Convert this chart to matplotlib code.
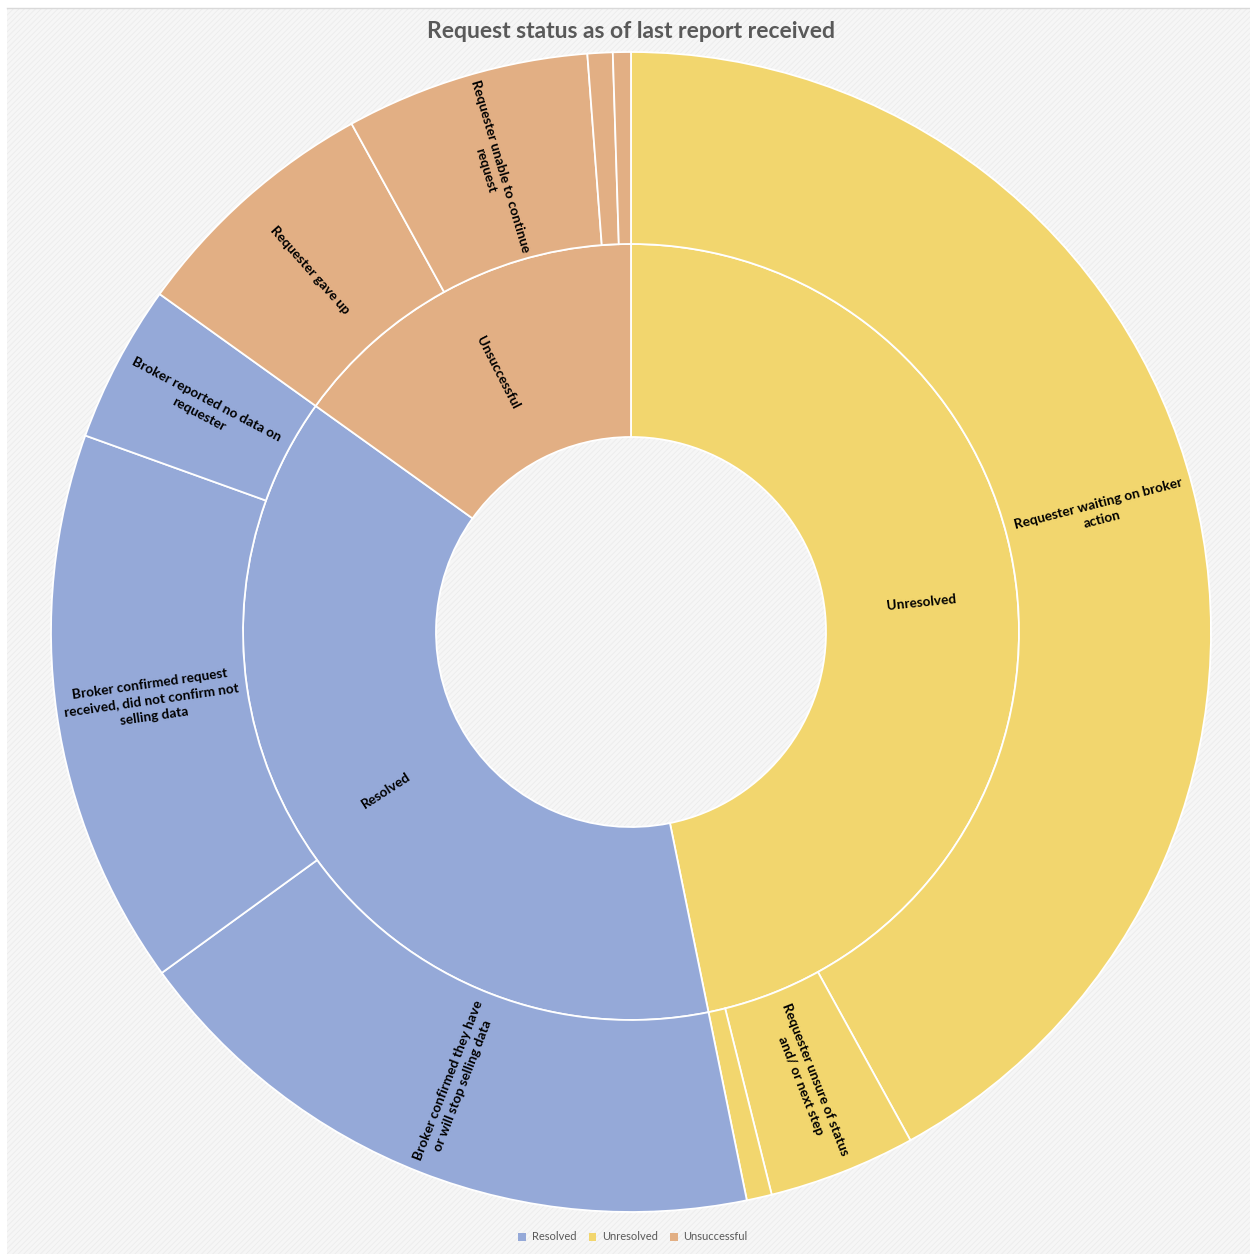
import numpy as np
import matplotlib.pyplot as plt
from matplotlib.patches import Rectangle, Patch

plt.rcParams['font.family'] = ['Lato', 'DejaVu Sans']
plt.rcParams['hatch.linewidth'] = 0.6

# inner ring
groups = ['Unresolved', 'Resolved', 'Unsuccessful']
group_colors = ['#F2D66E', '#95A9D8', '#E2AF84']

# outer ring (percent of requests)
sub_labels = [
    'Requester waiting on broker\naction',
    'Requester unsure of status\nand/ or next step',
    '',
    'Broker confirmed they have\nor will stop selling data',
    'Broker confirmed request\nreceived, did not confirm not\nselling data',
    'Broker reported no data on\nrequester',
    'Requester gave up',
    'Requester unable to continue\nrequest',
    '',
    '',
]
sub_values = [42.0, 4.1, 0.7, 18.2, 15.5, 4.4, 7.1, 6.8, 0.7, 0.5]
sub_group = [0, 0, 0, 1, 1, 1, 2, 2, 2, 2]

group_values = [sum(v for v, g in zip(sub_values, sub_group) if g == i)
                for i in range(len(groups))]

W, H = 1250, 1254
fig = plt.figure(figsize=(W / 100, H / 100), dpi=100)

# chart area background with the fine diagonal pattern
bg = Rectangle((7 / W, 0), 1 - 7 / W, 1 - 8 / H, transform=fig.transFigure,
               facecolor='#F6F6F6', edgecolor='#ECECEC', hatch='//////',
               lw=0, zorder=-10)
fig.patches.append(bg)
fig.add_artist(plt.Line2D([7 / W, 1], [1 - 8 / H, 1 - 8 / H], color='#D9D9D9',
                          lw=1, transform=fig.transFigure))

# place ring: centre at (631, 632) px from top, outer radius 580 px
cx, cy, R, half = 631, H - 632, 580, 600
ax = fig.add_axes([(cx - half) / W, (cy - half) / H, 2 * half / W, 2 * half / H])

r_hole, r_mid = 195 / R, 388 / R
edge = dict(edgecolor='white', linewidth=1.3)

inner, _ = ax.pie(group_values, radius=r_mid, startangle=90, counterclock=False,
                  colors=group_colors,
                  wedgeprops=dict(width=r_mid - r_hole, **edge))
outer, _ = ax.pie(sub_values, radius=1.0, startangle=90, counterclock=False,
                  colors=[group_colors[g] for g in sub_group],
                  wedgeprops=dict(width=1.0 - r_mid, **edge))

ax.set_xlim(-half / R, half / R)
ax.set_ylim(-half / R, half / R)
ax.set_aspect('equal')
ax.axis('off')


def radial_label(wedge, text, r):
    phi = (wedge.theta1 + wedge.theta2) / 2
    x, y = r * np.cos(np.radians(phi)), r * np.sin(np.radians(phi))
    rot = phi % 360
    if 90 < rot <= 270:
        rot -= 180
    elif rot > 270:
        rot -= 360
    ax.text(x, y, text, rotation=rot, rotation_mode='anchor', ha='center',
            va='center', multialignment='center', fontsize=9.8,
            fontweight='bold', color='black', linespacing=1.4)


for w, name in zip(inner, groups):
    radial_label(w, name, (r_hole + r_mid) / 2)
for w, name in zip(outer, sub_labels):
    if name:
        radial_label(w, name, (r_mid + 1.0) / 2)

fig.text(631 / W, 1 - 32 / H, 'Request status as of last report received',
         ha='center', va='center', fontsize=16.5, fontweight='bold',
         color='#595959')

legend_order = ['Resolved', 'Unresolved', 'Unsuccessful']
handles = [Patch(facecolor=group_colors[groups.index(n)], edgecolor='none',
                 label=n) for n in legend_order]
fig.legend(handles=handles, loc='center', bbox_to_anchor=(633 / W, 1 - 1237 / H),
           ncol=3, frameon=False, fontsize=8, labelcolor='#595959',
           handlelength=0.7, handleheight=0.7, handletextpad=0.5,
           columnspacing=1.1)

fig.savefig('out.png', dpi=100)
